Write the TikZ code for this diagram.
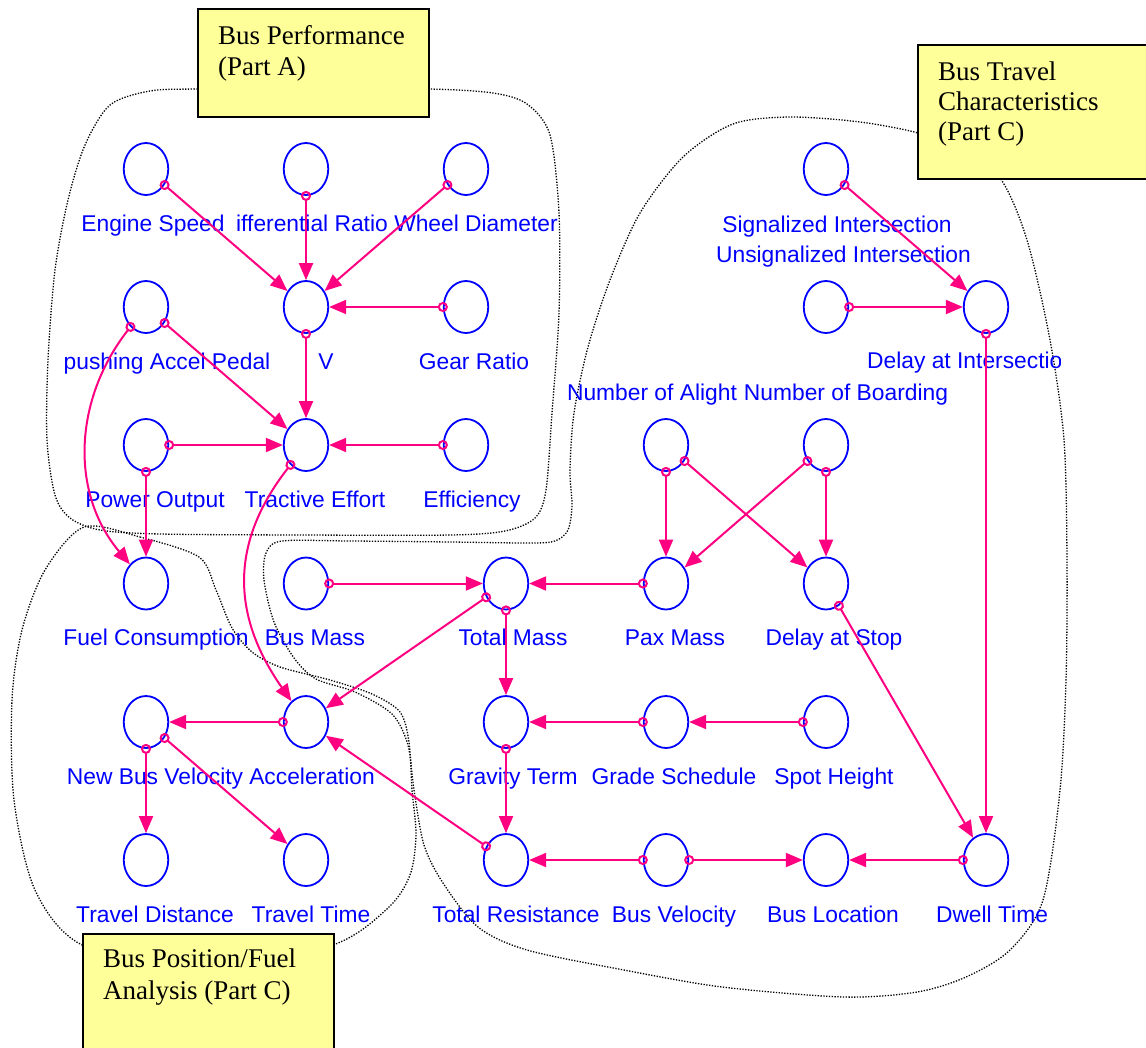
\documentclass[tikz,border=0pt]{standalone}
\usepackage{fontspec}
\setmainfont{Liberation Serif}
\newfontfamily\varfont{Liberation Sans}
\usetikzlibrary{shapes.geometric,arrows.meta}
\definecolor{varblue}{RGB}{0,0,255}
\definecolor{causalpink}{RGB}{255,0,128}
\definecolor{noteyellow}{RGB}{255,255,153}
\tikzstyle{varnode}=[
    ellipse, draw=varblue, line width=1.8pt,
    minimum width=44.5pt, minimum height=52pt, inner sep=0pt,
]
\tikzstyle{varlabel}=[
    anchor=base, inner sep=0pt, text=varblue,
    font=\varfont\fontsize{22.8}{26}\selectfont,
]
\tikzstyle{causal}=[
    draw=causalpink, line width=2pt,
    arrows={Circle[open,length=10pt,width=10pt]-Triangle[length=17pt,width=14pt]},
    shorten <=-5pt,
]
\tikzstyle{partloop}=[line width=1.3pt, dash pattern=on 1.3pt off 1.5pt]
\tikzstyle{partnote}=[fill=noteyellow, draw=black, line width=1.8pt, anchor=north west, inner sep=0pt]
\tikzstyle{notetext}=[anchor=base west, inner sep=0pt, font=\fontsize{27}{31}\selectfont]

\begin{document}
\begin{tikzpicture}[x=1pt, y=1pt]
    \useasboundingbox (0,0) rectangle (1146,-1047);

    % dotted part boundaries
    \draw[partloop] plot[smooth cycle] coordinates {
        (300,-89) (428,-89) (493,-93) (527,-104) (550,-135) (559,-213) (559,-313)
        (552,-413) (546,-490) (535,-518) (505,-531) (450,-535) (300,-535) (160,-534)
        (100,-530) (70,-518) (55,-495) (47,-440) (48,-360) (55,-270) (68,-200)
        (85,-145) (110,-105) (150,-91) (200,-89)};
    \draw[partloop] plot[smooth cycle] coordinates {
        (84,-527) (140,-537) (199,-557) (216,-590) (232,-628) (252,-652) (280,-667)
        (330,-680) (372,-694) (400,-712) (409,-742) (412,-790) (416,-835) (410,-875)
        (388,-908) (333,-945) (200,-975) (82,-945) (35,-890) (14,-800) (12,-700)
        (22,-630) (45,-570)};
    \draw[partloop] plot[smooth cycle] coordinates {
        (918,-133) (960,-150) (1000,-178) (1027,-240) (1050,-340) (1064,-440)
        (1067,-560) (1066,-680) (1060,-790) (1043,-900) (1010,-950) (966,-977)
        (917,-992) (844,-997) (722,-987) (624,-970) (527,-950) (478,-927)
        (443,-883) (424,-845) (414,-790) (408,-745) (392,-714) (355,-692)
        (316,-679) (294,-658) (274,-622) (264,-580) (266,-553) (282,-541)
        (350,-541) (450,-542) (530,-543) (555,-541) (568,-530) (572,-505)
        (570,-470) (574,-413) (588,-347) (610,-280) (640,-213) (683,-157)
        (733,-124) (790,-117) (860,-122)};

    % variables
    \node[varnode] (engspd) at (146,-169) {};
    \node[varnode] (difrat) at (306,-169) {};
    \node[varnode] (wheeld) at (466,-169) {};
    \node[varnode] (sigint) at (826,-169) {};
    \node[varnode] (push)   at (146,-307) {};
    \node[varnode] (vel)    at (306,-307) {};
    \node[varnode] (gear)   at (466,-307) {};
    \node[varnode] (unsig)  at (826,-307) {};
    \node[varnode] (delint) at (986,-307) {};
    \node[varnode] (power)  at (146,-445) {};
    \node[varnode] (tract)  at (306,-445) {};
    \node[varnode] (effic)  at (466,-445) {};
    \node[varnode] (alight) at (666,-445) {};
    \node[varnode] (board)  at (826,-445) {};
    \node[varnode] (fuel)   at (146,-583.5) {};
    \node[varnode] (busm)   at (306,-583.5) {};
    \node[varnode] (totm)   at (506,-583.5) {};
    \node[varnode] (paxm)   at (666,-583.5) {};
    \node[varnode] (dstop)  at (826,-583.5) {};
    \node[varnode] (newv)   at (146,-722) {};
    \node[varnode] (accel)  at (306,-722) {};
    \node[varnode] (grav)   at (506,-722) {};
    \node[varnode] (grade)  at (666,-722) {};
    \node[varnode] (spot)   at (826,-722) {};
    \node[varnode] (tdist)  at (146,-860) {};
    \node[varnode] (ttime)  at (306,-860) {};
    \node[varnode] (tres)   at (506,-860) {};
    \node[varnode] (busv)   at (666,-860) {};
    \node[varnode] (busloc) at (826,-860) {};
    \node[varnode] (dwell)  at (986,-860) {};

    % labels
    \node[varlabel] (engspd-l) at (153,-231) {Engine Speed};
    \node[varlabel] (difrat-l) at (312,-231) {ifferential Ratio};
    \node[varlabel] (wheeld-l) at (476,-231) {Wheel Diameter};
    \node[varlabel] (sigint-l) at (837,-232) {Signalized Intersection};
    \node[varlabel] (unsig-l)  at (843.5,-262) {Unsignalized Intersection};
    \node[varlabel] (push-l)   at (167,-369) {pushing Accel Pedal};
    \node[varlabel] (vel-l)    at (326,-369) {V};
    \node[varlabel] (gear-l)   at (474,-369) {Gear Ratio};
    \begin{scope}
        \clip (860,-340) rectangle (1060,-380);
        \node[varlabel, anchor=base west] (delint-l) at (867,-368) {Delay at Intersectio};
    \end{scope}
    \node[varlabel] (alight-l) at (652,-400) {Number of Alight};
    \node[varlabel] (board-l)  at (846,-400) {Number of Boarding};
    \node[varlabel] (power-l)  at (155,-507) {Power Output};
    \node[varlabel] (tract-l)  at (315,-507) {Tractive Effort};
    \node[varlabel] (effic-l)  at (472,-507) {Efficiency};
    \node[varlabel] (fuel-l)   at (156,-645.5) {Fuel Consumption};
    \node[varlabel] (busm-l)   at (315,-645.5) {Bus Mass};
    \node[varlabel] (totm-l)   at (513,-645.5) {Total Mass};
    \node[varlabel] (paxm-l)   at (675,-645.5) {Pax Mass};
    \node[varlabel] (dstop-l)  at (834,-645.5) {Delay at Stop};
    \node[varlabel] (newv-l)   at (155,-784) {New Bus Velocity};
    \node[varlabel] (accel-l)  at (312,-784) {Acceleration};
    \node[varlabel] (grav-l)   at (513,-784) {Gravity Term};
    \node[varlabel] (grade-l)  at (674,-784) {Grade Schedule};
    \node[varlabel] (spot-l)   at (834,-784) {Spot Height};
    \node[varlabel] (tdist-l)  at (155,-922) {Travel Distance};
    \node[varlabel] (ttime-l)  at (311,-922) {Travel Time};
    \node[varlabel] (tres-l)   at (516,-922) {Total Resistance};
    \node[varlabel] (busv-l)   at (674,-922) {Bus Velocity};
    \node[varlabel] (busloc-l) at (833,-922) {Bus Location};
    \node[varlabel] (dwell-l)  at (992,-922) {Dwell Time};

    % causal links
    \draw[causal] (engspd) -- (vel);
    \draw[causal] (difrat) -- (vel);
    \draw[causal] (wheeld) -- (vel);
    \draw[causal] (gear) -- (vel);
    \draw[causal] (vel) -- (tract);
    \draw[causal] (push) -- (tract);
    \draw[causal] (power) -- (tract);
    \draw[causal] (effic) -- (tract);
    \draw[causal] (push) to[out=232, in=130] (fuel);
    \draw[causal] (power) -- (fuel);
    \draw[causal] (tract) to[out=232, in=125, looseness=1.1] (accel);
    \draw[causal] (busm) -- (totm);
    \draw[causal] (paxm) -- (totm);
    \draw[causal] (totm) -- (accel);
    \draw[causal] (totm) -- (grav);
    \draw[causal] (accel) -- (newv);
    \draw[causal] (newv) -- (tdist);
    \draw[causal] (newv) -- (ttime);
    \draw[causal] (grade) -- (grav);
    \draw[causal] (spot) -- (grade);
    \draw[causal] (grav) -- (tres);
    \draw[causal] (tres) -- (accel);
    \draw[causal] (busv) -- (tres);
    \draw[causal] (busv) -- (busloc);
    \draw[causal] (dwell) -- (busloc);
    \draw[causal] (dstop) -- (dwell);
    \draw[causal] (delint) -- (dwell);
    \draw[causal] (sigint) -- (delint);
    \draw[causal] (unsig) -- (delint);
    \draw[causal] (alight) -- (paxm);
    \draw[causal] (alight) -- (dstop);
    \draw[causal] (board) -- (paxm);
    \draw[causal] (board) -- (dstop);

    % part notes
    \node[partnote, minimum width=231pt, minimum height=108pt] (perfnote) at (197,-8) {};
    \node[notetext] (perf-a) at (218,-44) {Bus Performance};
    \node[notetext] (perf-b) at (218,-75) {(Part A)};
    \node[partnote, minimum width=240pt, minimum height=134pt] (travnote) at (917,-44) {};
    \node[notetext] (trav-a) at (938,-80) {Bus Travel};
    \node[notetext] (trav-b) at (938,-110) {Characteristics};
    \node[notetext] (trav-c) at (938,-140) {(Part C)};
    \node[partnote, minimum width=251pt, minimum height=140pt] (posnote) at (82,-933) {};
    \node[notetext] (pos-a) at (103,-967) {Bus Position/Fuel};
    \node[notetext] (pos-b) at (103,-999) {Analysis (Part C)};
\end{tikzpicture}
\end{document}
